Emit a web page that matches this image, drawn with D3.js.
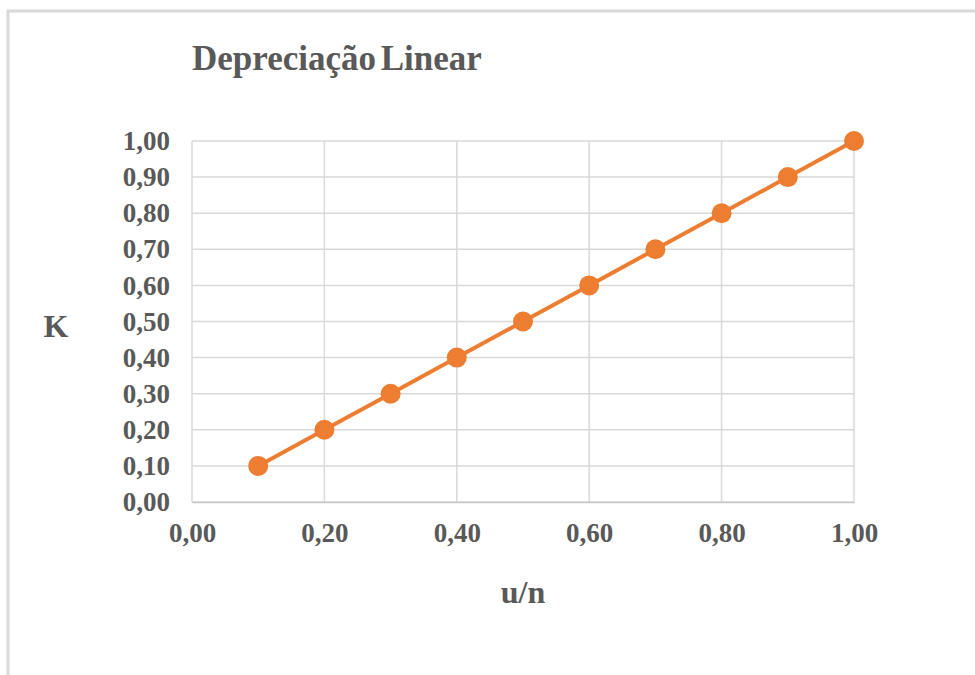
<!DOCTYPE html>
<html>
<head>
<meta charset="utf-8">
<script src="https://cdn.jsdelivr.net/npm/d3@7"></script>
<style>
  html, body { margin: 0; padding: 0; background: #fff; }
  svg { display: block; }
  text { font-family: "Liberation Serif", "Times New Roman", serif; font-weight: bold; fill: #595959; }
</style>
</head>
<body>
<svg id="chart" width="975" height="675"></svg>
<script>
// Linear depreciation: K as a function of u/n
const uOverN = [0.1, 0.2, 0.3, 0.4, 0.5, 0.6, 0.7, 0.8, 0.9, 1.0];
const kValues = [0.1, 0.2, 0.3, 0.4, 0.5, 0.6, 0.7, 0.8, 0.9, 1.0];
const xTicks = [0, 0.2, 0.4, 0.6, 0.8, 1.0];
const yTicks = [0, 0.1, 0.2, 0.3, 0.4, 0.5, 0.6, 0.7, 0.8, 0.9, 1.0];
const titleText = "Depreciação Linear";
const xTitle = "u/n";
const yTitle = "K";

const svg = d3.select("#chart");
const plot = { left: 192, right: 854, top: 141, bottom: 502 };

const x = d3.scaleLinear().domain([0, 1]).range([plot.left, plot.right]);
const y = d3.scaleLinear().domain([0, 1]).range([plot.bottom, plot.top]);
const fmt = v => d3.format(".2f")(v).replace(".", ",");

// chart frame
svg.append("rect")
  .attr("x", 8).attr("y", 11)
  .attr("width", 1000).attr("height", 700)
  .attr("fill", "none").attr("stroke", "#d9d9d9").attr("stroke-width", 3);

// gridlines
svg.append("g").selectAll("line").data(yTicks).join("line")
  .attr("x1", plot.left).attr("x2", plot.right)
  .attr("y1", d => y(d)).attr("y2", d => y(d))
  .attr("stroke", "#d9d9d9").attr("stroke-width", 1.5);
svg.append("g").selectAll("line").data(xTicks).join("line")
  .attr("y1", plot.top).attr("y2", plot.bottom)
  .attr("x1", d => x(d)).attr("x2", d => x(d))
  .attr("stroke", "#d9d9d9").attr("stroke-width", 1.5);

// axes
const xAxis = svg.append("g")
  .attr("transform", `translate(0,${plot.bottom})`)
  .call(d3.axisBottom(x).tickValues(xTicks).tickFormat(fmt).tickSize(0).tickPadding(21));
const yAxis = svg.append("g")
  .attr("transform", `translate(${plot.left},0)`)
  .call(d3.axisLeft(y).tickValues(yTicks).tickFormat(fmt).tickSize(0).tickPadding(22));
[xAxis, yAxis].forEach(g => {
  g.select(".domain").attr("stroke", "#c8c8c8").attr("stroke-width", 1.5);
  g.selectAll("text")
    .attr("font-family", "Liberation Serif, Times New Roman, serif")
    .attr("font-weight", "bold")
    .attr("font-size", 27)
    .attr("fill", "#595959");
});
yAxis.select(".domain").remove();

// series line and markers
const line = d3.line().x((d, i) => x(uOverN[i])).y(d => y(d));
svg.append("path")
  .datum(kValues)
  .attr("d", line)
  .attr("fill", "none")
  .attr("stroke", "#ed7d31")
  .attr("stroke-width", 4);
svg.append("g").selectAll("circle").data(kValues).join("circle")
  .attr("cx", (d, i) => x(uOverN[i]))
  .attr("cy", d => y(d))
  .attr("r", 10)
  .attr("fill", "#ed7d31");

// titles
svg.append("text")
  .attr("x", 192).attr("y", 70)
  .attr("font-size", 35)
  .attr("word-spacing", -4)
  .text(titleText);
svg.append("text")
  .attr("x", (plot.left + plot.right) / 2).attr("y", 603)
  .attr("text-anchor", "middle")
  .attr("font-size", 32)
  .text(xTitle);
svg.append("text")
  .attr("x", 56).attr("y", 337)
  .attr("text-anchor", "middle")
  .attr("font-size", 32)
  .text(yTitle);
</script>
</body>
</html>
